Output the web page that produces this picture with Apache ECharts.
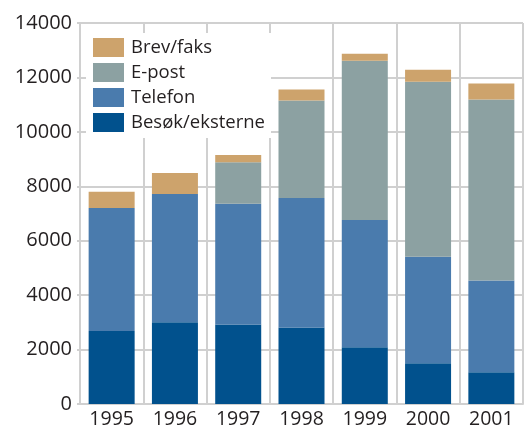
<!DOCTYPE html>
<html>
<head>
<meta charset="utf-8">
<script src="https://cdn.jsdelivr.net/npm/echarts@6/dist/echarts.min.js"></script>
<style>
  html, body { margin: 0; padding: 0; background: #fff; }
  #chart { width: 524px; height: 429px; }
</style>
</head>
<body>
<div id="chart"></div>
<script>
const years = ['1995', '1996', '1997', '1998', '1999', '2000', '2001']
const besok = [2680, 3000, 2925, 2815, 2085, 1500, 1170]
const telefon = [4520, 4720, 4435, 4755, 4680, 3910, 3365]
const epost = [0, 0, 1525, 3580, 5850, 6435, 6655]
const brev = [600, 765, 265, 405, 255, 440, 585]
const yTicks = { min: 0, max: 14000, interval: 2000 }

const gridColor = '#d0d0d0'
const textColor = '#231f20'
const font = '"Open Sans", "Noto Sans", sans-serif'

const myChart = echarts.init(document.getElementById('chart'))

const bar = (name, data, color) => ({
  name, type: 'bar', stack: 'total', data, barWidth: 46,
  itemStyle: { color }
})

const option = {
  animation: false,
  textStyle: { fontFamily: font },
  grid: { left: 80, right: 1, top: 23, bottom: 23 },
  legend: {
    left: 86, top: 33,
    orient: 'vertical',
    icon: 'rect',
    backgroundColor: '#fff',
    padding: [5, 6, 6, 7],
    itemWidth: 31, itemHeight: 19, itemGap: 6,
    textStyle: { fontSize: 18.5, color: textColor, fontFamily: font, padding: [0, 0, 0, 2] },
    data: ['Brev/faks', 'E-post', 'Telefon', 'Besøk/eksterne']
  },
  xAxis: {
    type: 'category',
    data: years,
    axisLine: { lineStyle: { color: gridColor, width: 2 } },
    axisTick: { show: false },
    axisLabel: { fontSize: 19.5, color: textColor, margin: 5, fontFamily: font },
    splitLine: { show: true, lineStyle: { color: gridColor, width: 2 } }
  },
  yAxis: {
    type: 'value',
    min: yTicks.min, max: yTicks.max, interval: yTicks.interval,
    axisLine: { show: true, lineStyle: { color: gridColor, width: 2 } },
    axisTick: { show: true, length: 3, lineStyle: { color: gridColor, width: 2 } },
    axisLabel: { fontSize: 20, color: textColor, margin: 8, fontFamily: font, formatter: v => String(v) },
    splitLine: { lineStyle: { color: gridColor, width: 2 } }
  },
  series: [
    bar('Besøk/eksterne', besok, '#01518d'),
    bar('Telefon', telefon, '#4a7bad'),
    bar('E-post', epost, '#8ca1a2'),
    bar('Brev/faks', brev, '#cda36c')
  ]
}

myChart.setOption(option)
</script>
</body>
</html>
